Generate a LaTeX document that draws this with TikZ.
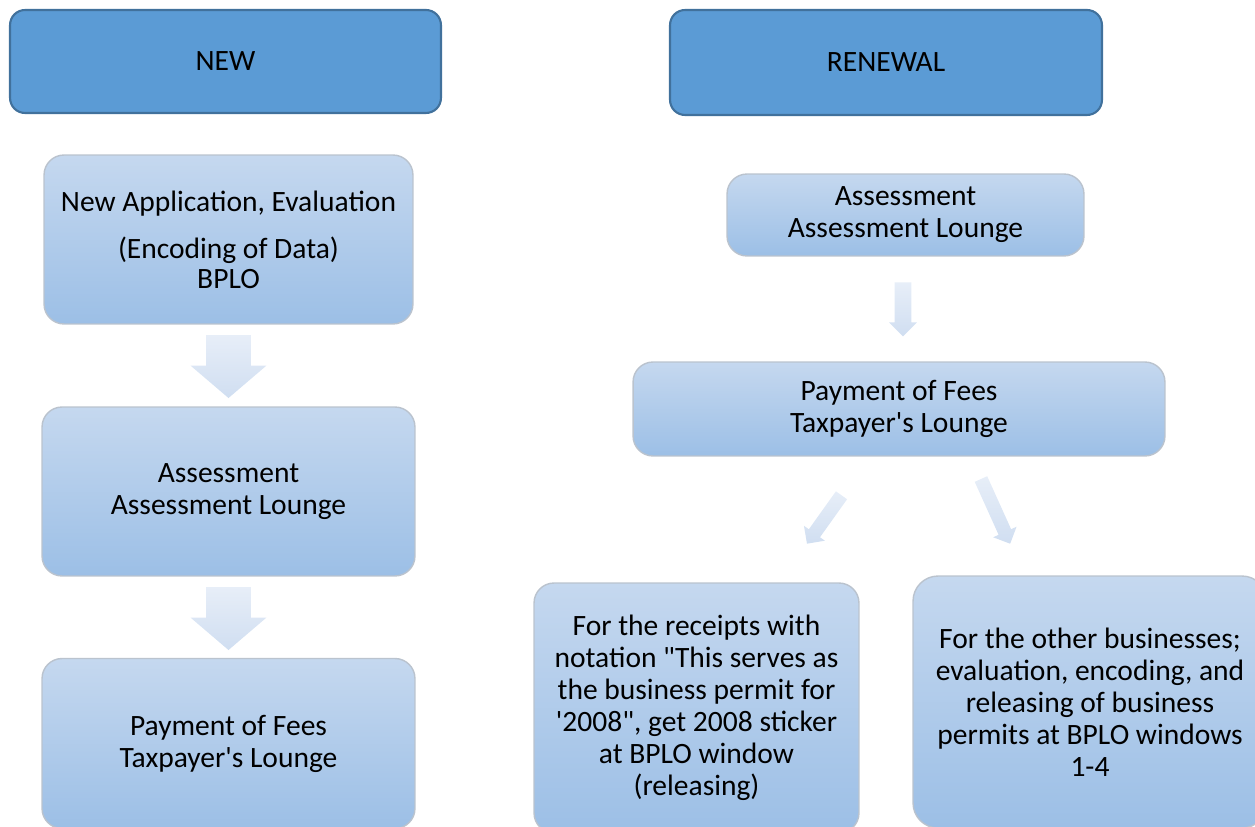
\documentclass[tikz,border=0pt]{standalone}
\usepackage{fontspec}
\setmainfont{Carlito}
\usetikzlibrary{shapes.arrows}

\definecolor{headblue}{HTML}{5B9BD5}
\definecolor{headline}{HTML}{41719C}
\definecolor{boxtop}{HTML}{C5D8EF}
\definecolor{boxbottom}{HTML}{9CBFE6}
\definecolor{boxline}{HTML}{BAC3CE}
\definecolor{arrtail}{HTML}{E7EEF8}
\definecolor{arrtip}{HTML}{D0DEF1}

\tikzset{
    headbox/.style={rounded corners=0.3cm, fill=headblue, draw=headline, line width=1.2pt, align=center},
    stepbox/.style={rounded corners=0.4cm, top color=boxtop, bottom color=boxbottom, draw=boxline, line width=0.8pt, align=center},
    blockarrow/.style={single arrow, inner xsep=0pt, single arrow head indent=0pt, top color=arrtail, bottom color=arrtip, draw=none, anchor=tail}
}

\begin{document}
\begin{tikzpicture}[x=0.02cm, y=-0.02cm, font=\fontsize{16.8}{18.2}\selectfont]
    \clip (0,0) rectangle (1255,827);
    % headers
    \node[headbox, minimum width=8.62cm, minimum height=2.06cm] (new) at (225.5,61.5) {NEW};
    \node[headbox, minimum width=8.64cm, minimum height=2.1cm] (renewal) at (886,62.5) {RENEWAL};
    % new business
    \node[stepbox, minimum width=7.38cm, minimum height=3.38cm] (app) at (228.5,239.5)
        {New Application, Evaluation\\[9pt](Encoding of Data)\\[-1.5pt]BPLO};
    \node[stepbox, minimum width=7.46cm, minimum height=3.38cm] (assess) at (228.5,491.5)
        {Assessment\\Assessment Lounge};
    \node[stepbox, minimum width=7.46cm, minimum height=3.4cm] (pay) at (228.5,743.5)
        {Payment of Fees\\Taxpayer\textquotesingle s Lounge};
    \node[blockarrow, rotate=-90, minimum height=1.26cm, inner ysep=0.44cm, single arrow head extend=0.31cm, single arrow tip angle=99] (a1) at ([yshift=-0.2cm]app.south) {};
    \node[blockarrow, rotate=-90, minimum height=1.26cm, inner ysep=0.44cm, single arrow head extend=0.31cm, single arrow tip angle=99] (a2) at ([yshift=-0.2cm]assess.south) {};
    % renewal
    \node[stepbox, minimum width=7.14cm, minimum height=1.64cm] (rassess) at (905.5,215)
        {Assessment\\Assessment Lounge};
    \node[stepbox, minimum width=10.64cm, minimum height=1.88cm] (rpay) at (899,409)
        {Payment of Fees\\Taxpayer\textquotesingle s Lounge};
    \node[stepbox, minimum width=6.5cm, minimum height=5cm] (sticker) at (696.5,708)
        {For the receipts with\\notation \textquotedbl This serves as\\the business permit for\\\textquotesingle 2008\textquotedbl, get 2008 sticker\\at BPLO window\\(releasing)};
    \node[stepbox, minimum width=7.08cm, minimum height=5.04cm, rounded corners=0.5cm] (other) at (1090,702)
        {For the other businesses;\\evaluation, encoding, and\\releasing of business\\permits at BPLO windows\\1-4};
    \node[blockarrow, rotate=-90, minimum height=1.08cm, inner ysep=0.16cm, single arrow head extend=0.11cm] (a3) at (903,282) {};
    \node[blockarrow, rotate=234.5, minimum height=1.19cm, inner ysep=0.13cm, single arrow head extend=0.12cm] (a4) at (841.7,495) {};
    \node[blockarrow, rotate=-65.7, minimum height=1.42cm, inner ysep=0.13cm, single arrow head extend=0.12cm] (a5) at (980.8,478.7) {};
\end{tikzpicture}
\end{document}
